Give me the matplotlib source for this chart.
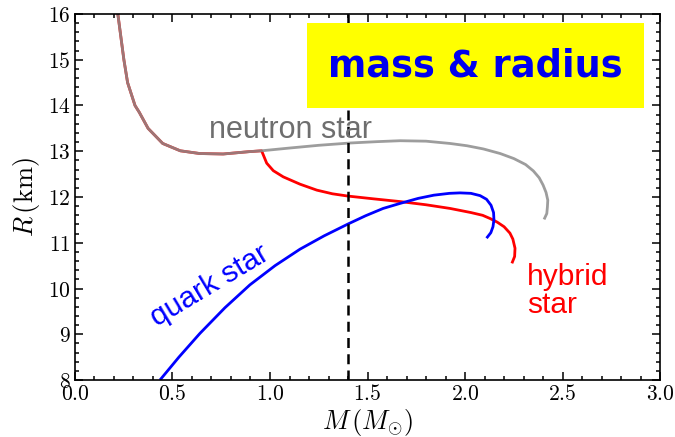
import numpy as np
import matplotlib
matplotlib.use("Agg")
import matplotlib.pyplot as plt
from matplotlib.ticker import MultipleLocator, FuncFormatter

plt.rcParams['mathtext.fontset'] = 'cm'

# --- mass-radius curves (M in solar masses, R in km) ---
ns_M = [0.22, 0.251, 0.27, 0.308, 0.33, 0.375, 0.45, 0.54, 0.64, 0.76, 0.89,
        0.957, 1.1, 1.25, 1.41, 1.55, 1.667, 1.8, 1.923, 2.01, 2.094, 2.18, 2.25,
        2.31, 2.35, 2.38, 2.40, 2.415, 2.424, 2.422, 2.419, 2.405]
ns_R = [16.0, 15.0, 14.5, 14.0, 13.85, 13.5, 13.17, 13.01, 12.95, 12.94, 12.99,
        13.01, 13.07, 13.13, 13.18, 13.21, 13.23, 13.22, 13.17, 13.12, 13.05, 12.95, 12.84,
        12.71, 12.57, 12.42, 12.26, 12.10, 11.93, 11.78, 11.64, 11.51]

# hybrid branch leaves the neutron-star curve at M ~ 0.96
hy_M = [0.957, 0.983, 1.017, 1.068, 1.154, 1.24, 1.32, 1.40, 1.53, 1.667, 1.80,
        1.923, 2.03, 2.09, 2.128, 2.165, 2.20, 2.23, 2.245, 2.256, 2.254, 2.24]
hy_R = [13.01, 12.74, 12.575, 12.44, 12.28, 12.15, 12.07, 12.02, 11.96, 11.90, 11.83,
        11.75, 11.66, 11.60, 11.53, 11.45, 11.35, 11.21, 11.08, 10.88, 10.70, 10.55]

qs_M = [0.436, 0.533, 0.641, 0.769, 0.897, 1.026, 1.154, 1.277, 1.40, 1.49, 1.58,
        1.667, 1.76, 1.84, 1.92, 1.974, 2.03, 2.077, 2.11, 2.133, 2.146, 2.148,
        2.143, 2.132, 2.11]
qs_R = [8.0, 8.50, 9.02, 9.58, 10.08, 10.50, 10.86, 11.15, 11.41, 11.59, 11.75,
        11.86, 11.97, 12.04, 12.08, 12.09, 12.08, 12.03, 11.95, 11.82, 11.66, 11.50,
        11.35, 11.22, 11.10]

M_CANON = 1.4

fig = plt.figure(figsize=(6.75, 4.37), dpi=100)
ax = fig.add_axes([0.111, 0.1304, 0.867, 0.8376])

line_kw = dict(lw=2.0, solid_joinstyle='round', solid_capstyle='butt')
# low-mass part shared by the hybrid and neutron-star curves
n_branch = ns_M.index(0.957) + 1
ax.plot(ns_M[:n_branch] + hy_M[1:], ns_R[:n_branch] + hy_R[1:], color='#ff0000', **line_kw)
ax.plot(ns_M, ns_R, color='#8c8c8c', alpha=0.85, **line_kw)
ax.plot(qs_M, qs_R, color='#0000ff', **line_kw)
ax.axvline(M_CANON, color='black', lw=1.8, dashes=(4, 2.5))

ax.text(0.687, 13.29, 'neutron star', color='#6e6e6e', fontsize=22,
        family='Liberation Sans', ha='left', va='baseline')
ax.text(2.318, 9.46, 'hybrid\nstar', color='#ff0000', fontsize=21.5,
        family='Liberation Sans', ha='left', va='baseline', linespacing=1.0)
ax.text(0.692, 10.06, 'quark star', color='#0000ff', fontsize=21.5,
        family='Liberation Sans', ha='center', va='center', rotation=31,
        rotation_mode='anchor')

# title panel sits above the dashed line
ax.add_patch(plt.Rectangle((1.19, 13.95), 1.728, 1.85, fc='#ffff00', ec='none', zorder=3))
ax.text(2.054, 14.87, 'mass & radius', color='#0000ee', fontsize=26.5,
        fontweight='bold', family='DejaVu Sans', ha='center', va='center', zorder=4)

ax.set_xlim(0, 3)
ax.set_ylim(8, 16)
ax.xaxis.set_major_locator(MultipleLocator(0.5))
ax.xaxis.set_minor_locator(MultipleLocator(0.1))
ax.yaxis.set_major_locator(MultipleLocator(1))
ax.yaxis.set_minor_locator(MultipleLocator(0.2))
ax.xaxis.set_major_formatter(FuncFormatter(lambda v, p: r'$\mathbf{%.1f}$' % v))
ax.yaxis.set_major_formatter(FuncFormatter(lambda v, p: r'$\mathbf{%d}$' % v))
ax.tick_params(which='both', direction='in', top=True, right=True, width=1.1)
ax.tick_params(which='major', length=6, labelsize=15.5, pad=3)
ax.tick_params(which='minor', length=3)
for s in ax.spines.values():
    s.set_linewidth(1.2)

ax.set_xlabel(r'$M\,(M_{\odot})$', fontsize=19, labelpad=2)
ax.set_ylabel(r'$R\,(\mathrm{km})$', fontsize=19, labelpad=4)

fig.savefig('out.png', dpi=100)
